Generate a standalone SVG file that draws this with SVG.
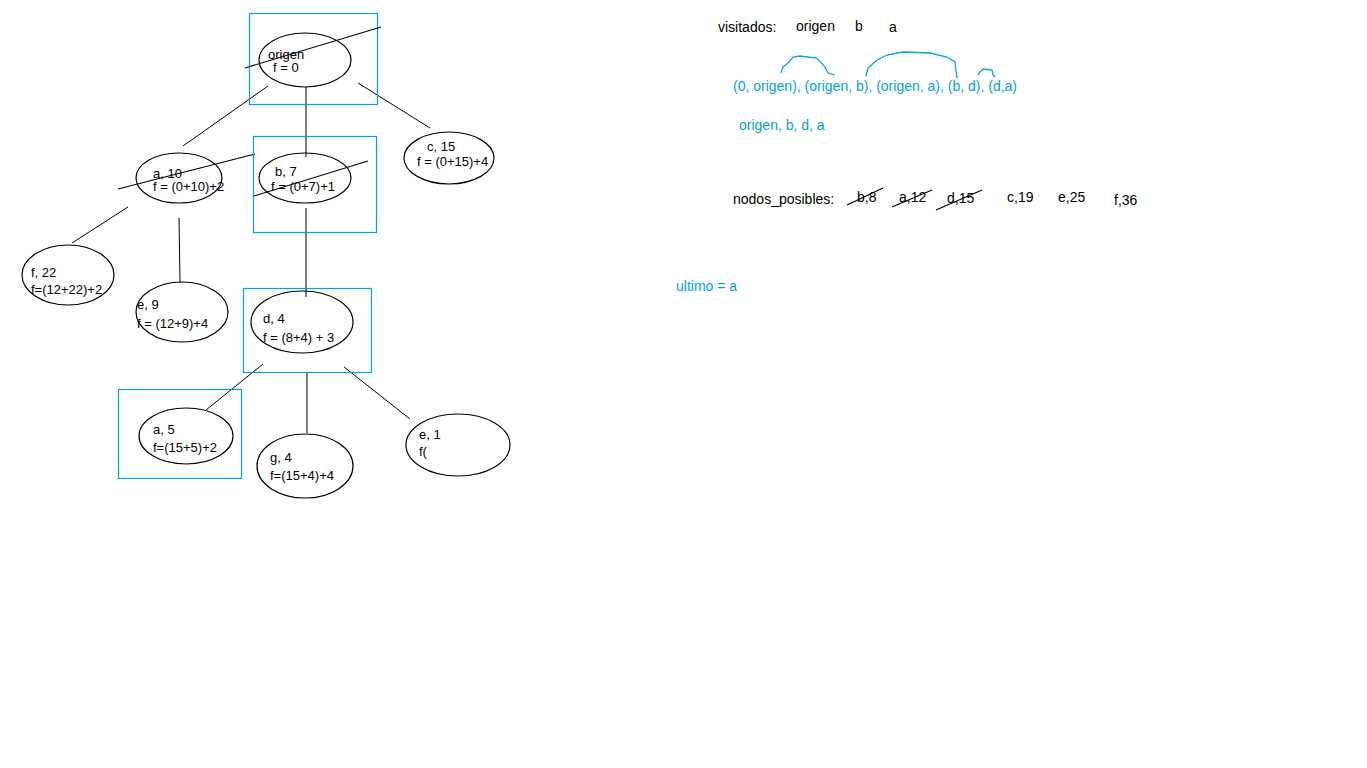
<svg xmlns="http://www.w3.org/2000/svg" width="1367" height="768" viewBox="0 0 1367 768">
  <style>
    text { font-family: "Liberation Sans", Arial, sans-serif; font-size: 13px; fill: #000; }
    .note { font-size: 14px; }
    .blue { fill: #00a2e8; }
    .node { fill: none; stroke: #000; stroke-width: 1.2; }
    .box { fill: none; stroke: #00a2e8; stroke-width: 1.2; }
    .edge { stroke: #000; stroke-width: 1; fill: none; }
    .strike { stroke: #000; stroke-width: 1.1; fill: none; }
    .arc { stroke: #00a2e8; stroke-width: 1.3; fill: none; }
  </style>
  <rect width="1367" height="768" fill="#fff"/>

  <!-- tree edges -->
  <g id="connectors">
    <line class="edge" x1="268" y1="86" x2="183" y2="146"/>
    <line class="edge" x1="306" y1="87" x2="306" y2="157"/>
    <line class="edge" x1="358" y1="83" x2="430" y2="128"/>
    <line class="edge" x1="128" y1="207" x2="72" y2="243"/>
    <line class="edge" x1="179" y1="218" x2="180" y2="282"/>
    <line class="edge" x1="306" y1="208" x2="306" y2="297"/>
    <line class="edge" x1="263" y1="364" x2="206" y2="410"/>
    <line class="edge" x1="307" y1="372" x2="307" y2="433"/>
    <line class="edge" x1="344" y1="367" x2="410" y2="419"/>
  </g>

  <g id="node-origen">
    <rect class="box" x="249.5" y="13.5" width="128" height="91"/>
    <ellipse class="node" cx="305" cy="60" rx="46" ry="27"/>
    <text x="268" y="59">origen</text>
    <text x="273" y="72">f = 0</text>
    <line class="strike" x1="245" y1="68" x2="381" y2="27"/>
  </g>

  <g id="node-a10">
    <ellipse class="node" cx="179" cy="178" rx="43" ry="25"/>
    <text x="153" y="178">a, 10</text>
    <text x="153" y="191">f = (0+10)+2</text>
    <line class="strike" x1="118" y1="189" x2="255" y2="154"/>
  </g>

  <g id="node-b7">
    <rect class="box" x="253.5" y="136.5" width="123" height="96"/>
    <ellipse class="node" cx="305" cy="178" rx="46" ry="25"/>
    <text x="275" y="176">b, 7</text>
    <text x="271" y="191">f = (0+7)+1</text>
    <line class="strike" x1="254" y1="196" x2="368" y2="161"/>
  </g>

  <g id="node-c15">
    <ellipse class="node" cx="449" cy="158" rx="45" ry="26"/>
    <text x="427" y="151">c, 15</text>
    <text x="417" y="166">f = (0+15)+4</text>
  </g>

  <g id="node-f22">
    <ellipse class="node" cx="68" cy="275" rx="46" ry="30"/>
    <text x="31" y="277">f, 22</text>
    <text x="31" y="294">f=(12+22)+2</text>
  </g>

  <g id="node-e9">
    <ellipse class="node" cx="182" cy="312" rx="46" ry="30"/>
    <text x="137" y="309">e, 9</text>
    <text x="137" y="328">f = (12+9)+4</text>
  </g>

  <g id="node-d4">
    <rect class="box" x="243.5" y="288.5" width="128" height="84"/>
    <ellipse class="node" cx="302" cy="322" rx="51" ry="31"/>
    <text x="263" y="323">d, 4</text>
    <text x="263" y="342">f = (8+4) + 3</text>
  </g>

  <g id="node-a5">
    <rect class="box" x="118.5" y="389.5" width="123" height="89"/>
    <ellipse class="node" cx="186" cy="436" rx="47" ry="28"/>
    <text x="153" y="434">a, 5</text>
    <text x="153" y="452">f=(15+5)+2</text>
  </g>

  <g id="node-g4">
    <ellipse class="node" cx="305" cy="466" rx="48" ry="32"/>
    <text x="270" y="462">g, 4</text>
    <text x="270" y="480">f=(15+4)+4</text>
  </g>

  <g id="node-e1">
    <ellipse class="node" cx="458" cy="445" rx="52" ry="31"/>
    <text x="419" y="439">e, 1</text>
    <text x="419" y="456">f(</text>
  </g>

  <!-- notes on the right -->
  <g id="visitados">
    <text class="note" x="718" y="32">visitados:</text>
    <text class="note" x="796" y="31">origen</text>
    <text class="note" x="855" y="31">b</text>
    <text class="note" x="889" y="32">a</text>
  </g>

  <g id="pairs">
    <polyline class="arc" points="781,73 783,67 788,63 793,57 800,56 817,58 825,67 828,73 835,75"/>
    <polyline class="arc" points="866,76 868,68 877,60 887,55 903,52 930,53 947,57 955,62 957,78"/>
    <polyline class="arc" points="978,75 980,72 983,69 992,70 993,75 995,77"/>
    <text class="note blue" x="733" y="91">(0, origen), (origen, b), (origen, a), (b, d), (d,a)</text>
    <text class="note blue" x="739" y="130">origen, b, d, a</text>
  </g>

  <g id="nodos-posibles">
    <text class="note" x="733" y="204">nodos_posibles:</text>
    <text class="note" x="857" y="202">b,8</text>
    <text class="note" x="899" y="202">a,12</text>
    <text class="note" x="947" y="203">d,15</text>
    <text class="note" x="1007" y="202">c,19</text>
    <text class="note" x="1058" y="202">e,25</text>
    <text class="note" x="1114" y="205">f,36</text>
    <line class="strike" x1="847" y1="205" x2="883" y2="188"/>
    <line class="strike" x1="892" y1="207" x2="932" y2="190"/>
    <line class="strike" x1="936" y1="210" x2="982" y2="190"/>
  </g>

  <text id="ultimo" class="note blue" x="676" y="291">ultimo = a</text>
</svg>
